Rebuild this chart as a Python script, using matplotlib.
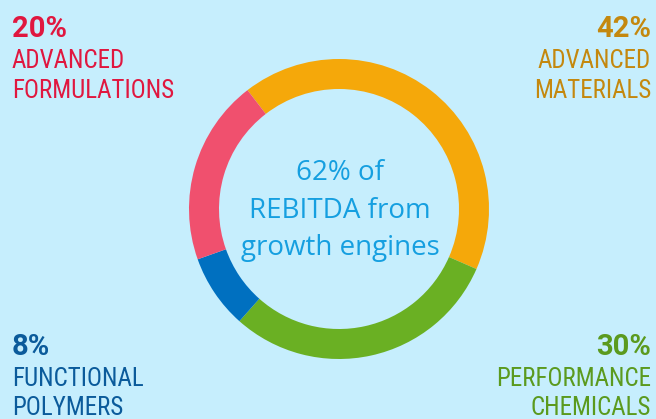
import matplotlib
matplotlib.use("Agg")
import matplotlib.pyplot as plt

segments = ["ADVANCED\nMATERIALS", "PERFORMANCE\nCHEMICALS", "FUNCTIONAL\nPOLYMERS", "ADVANCED\nFORMULATIONS"]
values = [42, 30, 8, 20]
ring_colors = ["#F5A80A", "#6AB023", "#0070C0", "#F0506E"]
text_colors = ["#C4880E", "#5B9A1E", "#0B5B9B", "#E0173F"]
center_text = "62% of\nREBITDA from\ngrowth engines"

W, H = 656, 419
bg = "#C6EEFD"
fam = ["Roboto Condensed", "Roboto", "DejaVu Sans"]

fig = plt.figure(figsize=(W / 100, H / 100), dpi=100, facecolor=bg)

cx, cy, r = 339, 209, 150
ax = fig.add_axes([(cx - r) / W, (H - cy - r) / H, 2 * r / W, 2 * r / H])
ax.set_facecolor(bg)
ax.pie(values, colors=ring_colors, startangle=127.6, counterclock=False,
       radius=1, wedgeprops=dict(width=0.2, edgecolor="none", linewidth=0))
ax.set_xlim(-1, 1)
ax.set_ylim(-1, 1)
ax.set_aspect("equal")
ax.axis("off")

def fy(y):
    return 1 - y / H

# center text
for i, line in enumerate(center_text.split("\n")):
    fig.text(340 / W, fy(179.5 + 38 * i), line, ha="center", va="baseline",
             fontsize=20, color="#159FE0", family=["Open Sans", "DejaVu Sans"])

# corner labels: (x, ha, baseline of pct, line gap)
positions = [(651, "right", 37, 31.5, 30), (651, "right", 355, 31, 29),
             (12, "left", 355, 31, 29), (12, "left", 37, 31.5, 30)]
for (x, ha, yb, g1, g2), name, v, c in zip(positions, segments, values, text_colors):
    fig.text(x / W, fy(yb), f"{v}%", ha=ha, va="baseline", fontsize=21,
             fontweight="bold", color=c, family=["Roboto", "DejaVu Sans"])
    for j, line in enumerate(name.split("\n")):
        fig.text(x / W, fy(yb + g1 + g2 * j), line, ha=ha, va="baseline",
                 fontsize=18, color=c, family=fam)

fig.savefig("out.png", dpi=100, facecolor=bg)
